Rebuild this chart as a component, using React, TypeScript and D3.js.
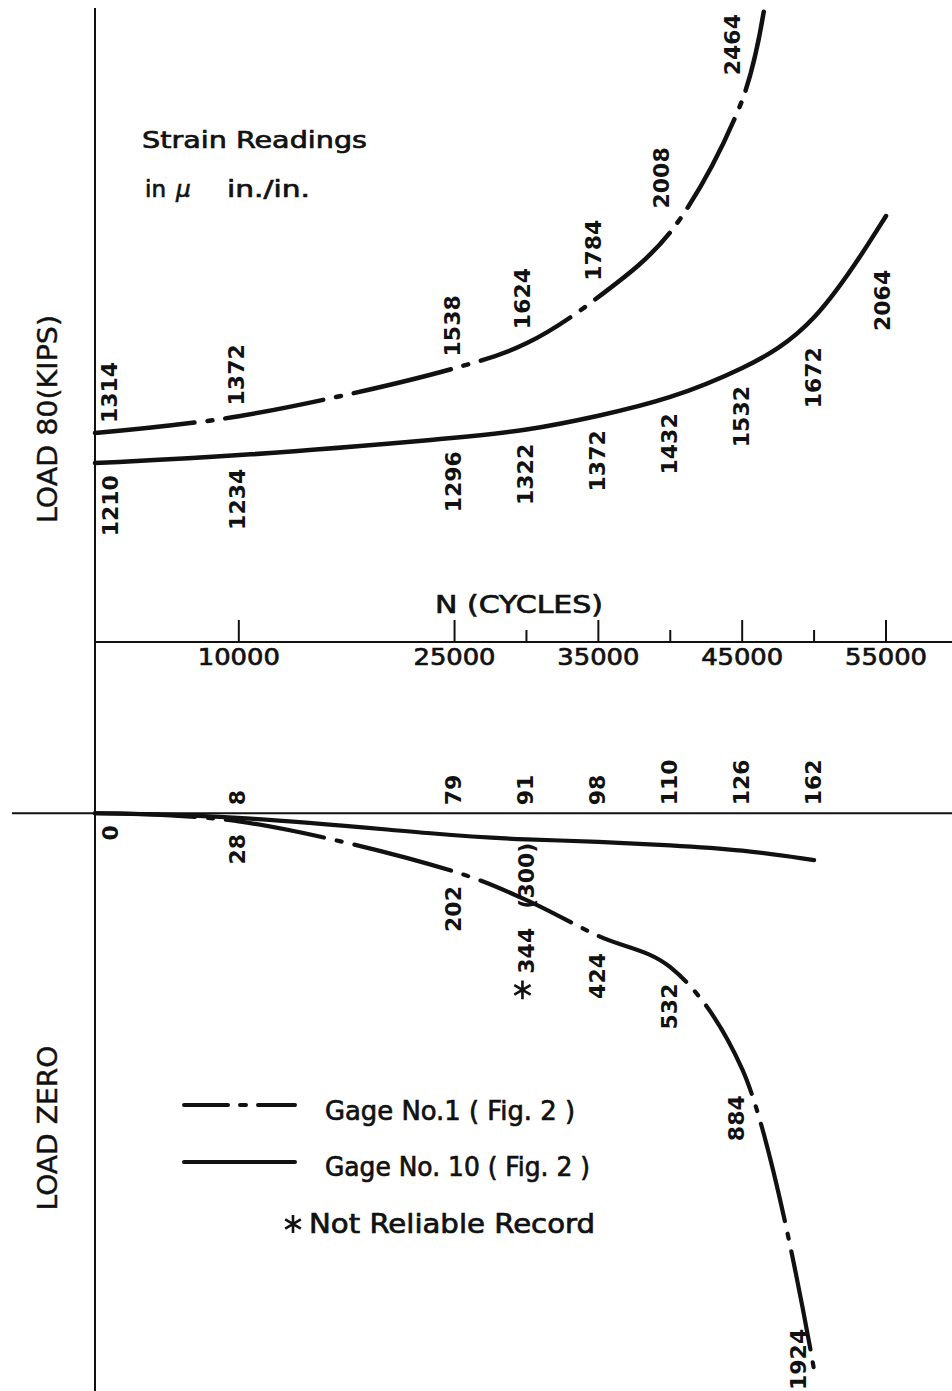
import React from "react";
import * as d3 from "d3";

const width = 952;
const height = 1391;

// strain readings (micro in./in.) against N (cycles)
// load 80 kips
const load80G1Cycles = [0, 10000, 25000, 30000, 35000, 40000, 45000];
const load80G1Strain = [1314, 1372, 1538, 1624, 1784, 2008, 2464];
const load80G1TailCycles = [46500]; // faired end of the curve
const load80G1TailStrain = [2770];
const load80G10Cycles = [0, 10000, 25000, 30000, 35000, 40000, 45000, 50000, 55000];
const load80G10Strain = [1210, 1234, 1296, 1322, 1372, 1432, 1532, 1672, 2064];

// load zero
const zeroG1Cycles = [0, 10000, 25000, 30000, 35000, 40000, 45000, 50000];
const zeroG1Strain = [0, 28, 202, 300, 424, 532, 884, 1924];
const zeroG10Cycles = [10000, 25000, 30000, 35000, 40000, 45000, 50000];
const zeroG10Strain = [8, 79, 91, 98, 110, 126, 162];
const unreliableCycles = [30000];
const unreliableStrain = [344];

const tickCycles = [10000, 25000, 30000, 35000, 40000, 45000, 50000, 55000];
const tickLabels = ["10000", "25000", "35000", "45000", "55000"];

const x = d3.scaleLinear().domain([0, 55000]).range([95, 886]);
// load 80 strains go up from the zero line, load zero strains go down
const y = d3.scaleLinear().domain([-1924, 2064]).range([1370, 216]);

const makeLine = (curve: any) =>
  d3
    .line<number[]>()
    .x(d => x(d[0]))
    .y(d => y(d[1]))
    .curve(curve);
const throughPoints = makeLine(d3.curveCatmullRom.alpha(0.5));
const faired = makeLine(d3.curveBasis);

const font = "'DejaVu Sans', sans-serif";
const ink = "#111";
const dashed = "100 13 5 13";

const pts = (c: number[], s: number[], sign = 1) => c.map((n, i) => [n, sign * s[i]]);

const g1Up = pts(load80G1Cycles, load80G1Strain).concat(pts(load80G1TailCycles, load80G1TailStrain));
const g10Up = pts(load80G10Cycles, load80G10Strain);
const g1Zero = pts(zeroG1Cycles, zeroG1Strain, -1);
const g10Zero = [[0, 0]].concat(pts(zeroG10Cycles, zeroG10Strain, -1));

function slopeAt(p: number[][], i: number, dir: number) {
  const j = i + dir;
  if (j < 0 || j >= p.length) return 0;
  return Math.abs((y(p[j][1]) - y(p[i][1])) / (x(p[j][0]) - x(p[i][0])));
}

const minX = x(0) + 16;

// lettering: regular face with a thin outline to get a medium weight
const word = { fontFamily: font, fill: ink, stroke: ink, strokeWidth: 0.7 };

function VLabel({ px, py, anchor, children }: any) {
  return (
    <text
      transform={`translate(${px},${py}) rotate(-90)`}
      textAnchor={anchor}
      dominantBaseline="central"
      fontFamily={font}
      fontWeight="bold"
      fontSize={22}
      fill={ink}
    >
      {children}
    </text>
  );
}

function Asterisk({ cx, cy, size }: any) {
  return (
    <path
      d={d3.symbol(d3.symbolAsterisk, size)() as string}
      transform={`translate(${cx},${cy})`}
      stroke={ink}
      strokeWidth={2.6}
      fill="none"
    />
  );
}

export default function App() {
  const y0 = y(0);

  const g1UpLabels = load80G1Cycles.map((n, i) => {
    const s = Math.min(slopeAt(g1Up, i, 1), 2.2);
    return (
      <VLabel key={"a" + i} px={Math.max(x(n), minX) - s * 4 - 1} py={y(load80G1Strain[i]) - (9 + Math.min(s, 2) * 8)} anchor="start">
        {load80G1Strain[i]}
      </VLabel>
    );
  });

  const g10UpLabels = load80G10Cycles.map((n, i) => {
    const s = Math.min(slopeAt(g10Up, i, -1), 2);
    const last = i === load80G10Cycles.length - 1;
    return (
      <VLabel key={"b" + i} px={Math.max(x(n), minX) - (last ? 4 : 1)} py={y(load80G10Strain[i]) + 12 + s * 10 + (last ? 26 : 0)} anchor="end">
        {load80G10Strain[i]}
      </VLabel>
    );
  });

  const g1ZeroLabels = zeroG1Cycles.map((n, i) => {
    const v = zeroG1Strain[i];
    if (unreliableCycles.includes(n)) {
      const g10v = zeroG10Strain[zeroG10Cycles.indexOf(n)];
      return (
        <VLabel key={"c" + i} px={x(n)} py={y(-g10v) + 3} anchor="end">
          {`(${v})`}
        </VLabel>
      );
    }
    const last = i === zeroG1Cycles.length - 1;
    if (last) {
      return (
        <VLabel key={"c" + i} px={x(n) - 16} py={y(-v) + 20} anchor="start">
          {v}
        </VLabel>
      );
    }
    const s = Math.min(slopeAt(g1Zero, i, -1), 2);
    return (
      <VLabel key={"c" + i} px={Math.max(x(n), minX) - (s > 1 ? 6 : 1)} py={y(-v) + 12 + s * 10} anchor="end">
        {v}
      </VLabel>
    );
  });

  const g10ZeroLabels = zeroG10Cycles.map((n, i) => (
    <VLabel key={"d" + i} px={x(n) - 1} py={y0 - 8} anchor="start">
      {zeroG10Strain[i]}
    </VLabel>
  ));

  const unreliable = unreliableCycles.map((n, i) => {
    const top = y(-unreliableStrain[i]) + 15;
    return (
      <g key={"u" + i}>
        <VLabel px={x(n)} py={top} anchor="end">
          {unreliableStrain[i]}
        </VLabel>
        <Asterisk cx={x(n) - 4} cy={top + 62} size={250} />
      </g>
    );
  });

  const axisY = 642;

  return (
    <svg
      width={width}
      height={height}
      viewBox={`0 0 ${width} ${height}`}
      style={{ position: "absolute", left: 0, top: 0, background: "#fff", display: "block" }}
    >
      <rect width={width} height={height} fill="#fff" />

      {/* vertical axis, load zero line, N axis */}
      <line x1={x(0)} x2={x(0)} y1={8} y2={height} stroke={ink} strokeWidth={2} />
      <line x1={12} x2={width} y1={y0} y2={y0} stroke={ink} strokeWidth={2} />
      <line x1={x(0)} x2={width} y1={axisY} y2={axisY} stroke={ink} strokeWidth={2} />
      {tickCycles.map(n => {
        const lab = tickLabels.includes(String(n));
        return (
          <g key={n}>
            <line x1={x(n)} x2={x(n)} y1={axisY} y2={axisY - (lab ? 22 : 12)} stroke={ink} strokeWidth={2} />
            {lab && (
              <text x={x(n)} y={665} textAnchor="middle" textLength={82} lengthAdjust="spacingAndGlyphs" fontSize={23} {...word}>
                {n}
              </text>
            )}
          </g>
        );
      })}
      <text x={435} y={613} textLength={168} lengthAdjust="spacingAndGlyphs" fontSize={24} {...word}>
        N (CYCLES)
      </text>

      {/* side titles */}
      <text transform="translate(47,419) rotate(-90)" textAnchor="middle" dominantBaseline="central" textLength={208} lengthAdjust="spacingAndGlyphs" fontSize={27} {...word} strokeWidth={0.4}>
        LOAD 80(KIPS)
      </text>
      <text transform="translate(47,1128) rotate(-90)" textAnchor="middle" dominantBaseline="central" textLength={165} lengthAdjust="spacingAndGlyphs" fontSize={27} {...word} strokeWidth={0.4}>
        LOAD ZERO
      </text>

      <text x={142} y={148} textLength={225} lengthAdjust="spacingAndGlyphs" fontSize={23} {...word}>
        Strain Readings
      </text>
      <text x={145} y={197} fontSize={23} {...word}>
        in
      </text>
      <text x={176} y={197} fontStyle="italic" fontSize={23} {...word}>
        μ
      </text>
      <text x={227} y={197} textLength={83} lengthAdjust="spacingAndGlyphs" fontSize={23} {...word}>
        in./in.
      </text>

      {/* curves */}
      <path d={throughPoints(g1Up) as string} fill="none" stroke={ink} strokeWidth={4.5} strokeDasharray={dashed} strokeLinecap="round" />
      <path d={faired(g10Up) as string} fill="none" stroke={ink} strokeWidth={4.5} strokeLinecap="round" />
      <path d={throughPoints(g1Zero) as string} fill="none" stroke={ink} strokeWidth={4.2} strokeDasharray={dashed} strokeLinecap="round" />
      <path d={faired(g10Zero) as string} fill="none" stroke={ink} strokeWidth={4.2} strokeLinecap="round" />

      {g1UpLabels}
      {g10UpLabels}
      {g1ZeroLabels}
      {g10ZeroLabels}
      {unreliable}

      {/* legend */}
      <line x1={184} x2={295} y1={1105} y2={1105} stroke={ink} strokeWidth={4} strokeDasharray="44 12 6 12" strokeLinecap="round" />
      <text x={325} y={1120} textLength={250} lengthAdjust="spacingAndGlyphs" fontSize={26} {...word}>
        Gage No.1 ( Fig. 2 )
      </text>
      <line x1={184} x2={295} y1={1162} y2={1162} stroke={ink} strokeWidth={4} strokeLinecap="round" />
      <text x={325} y={1176} textLength={265} lengthAdjust="spacingAndGlyphs" fontSize={26} {...word}>
        Gage No. 10 ( Fig. 2 )
      </text>
      <Asterisk cx={293} cy={1224} size={230} />
      <text x={309} y={1233} textLength={286} lengthAdjust="spacingAndGlyphs" fontSize={26} {...word}>
        Not Reliable Record
      </text>
    </svg>
  );
}
